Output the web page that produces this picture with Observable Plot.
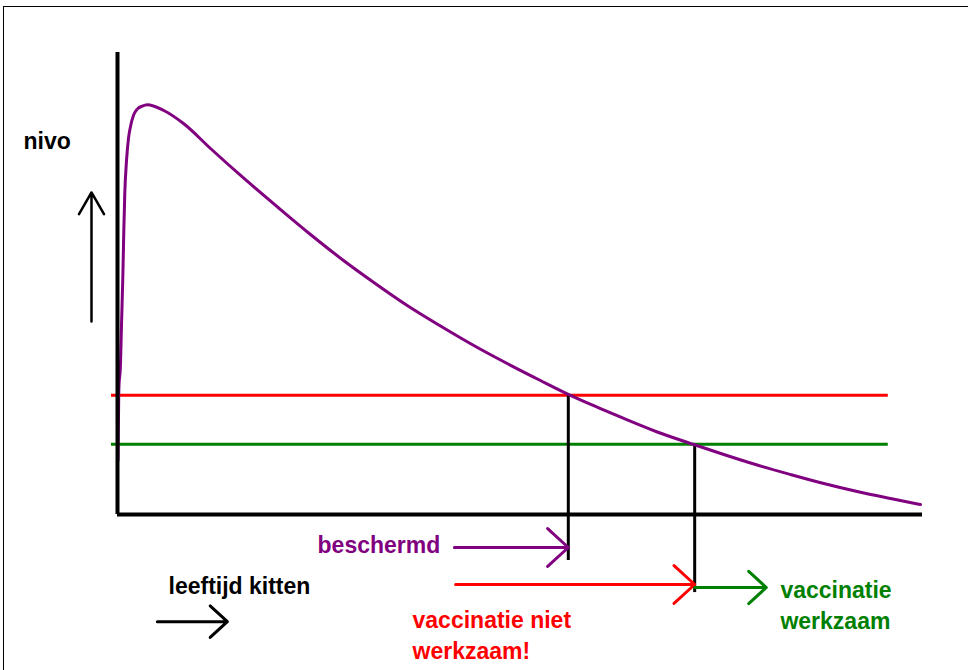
<!DOCTYPE html>
<html>
<head>
<meta charset="utf-8">
<script src="https://cdn.jsdelivr.net/npm/d3@7"></script>
<script src="https://cdn.jsdelivr.net/npm/@observablehq/plot@0.6"></script>
<style>
  html, body { margin: 0; padding: 0; background: #fff; }
  #wrap { position: relative; width: 968px; height: 670px; overflow: hidden; }
  #frame { position: absolute; left: 3px; top: 6px; width: 2000px; height: 2000px;
           border-left: 1.5px solid #000; border-top: 1.5px solid #000; box-sizing: border-box; }
  #chart { position: absolute; left: 0; top: 0; }
</style>
</head>
<body>
<div id="wrap"><div id="frame"></div><div id="chart"></div></div>
<script>
// Antibody level (maternal antibodies) versus kitten age (weeks), schematic
const ageWeeks = [0.012, 0.032, 0.075, 0.099, 0.132, 0.157, 0.181, 0.224, 0.273, 0.323, 0.398, 0.497, 0.614, 0.738,
  1.150, 1.648, 2.311, 3.130, 3.975, 4.795, 5.615, 6.368, 7.198, 8.025, 8.852, 9.682, 10.509,
  11.212, 12.0, 12.579, 13.409, 14.318, 15.063, 15.893, 16.720, 17.548, 18.378, 19.205, 19.950];
const antibodyLevel = [11.7, 26.8, 32.7, 40.9, 51.3, 61.5, 69.5, 76.6, 81.4, 84.0, 86.4, 87.8, 88.4, 88.7,
  87.45, 84.57, 79.22, 72.84, 66.56, 60.61, 54.98, 50.22, 45.24, 40.8, 36.58, 32.68, 29.0,
  25.97, 22.94, 20.78, 17.86, 15.15, 12.99, 10.71, 8.66, 6.71, 4.98, 3.46, 2.16];

// Thresholds: red = protection level, green = vaccination-works level
const thresholdNames = ["bescherming", "vaccinatie"];
const thresholdLevels = [25.8, 15.2];
const thresholdSpan = [-0.15, 19.15];
const crossingAges = [11.2, 14.34];
const dropEnds = [-9.96, -16.9];

// Arrows below the axis (age ranges)
const arrowFrom = [8.37, 8.40, 14.34, 0.99];
const arrowTo = [11.2, 14.34, 16.12, 2.73];
const arrowLevel = [-7.14, -15.15, -15.8, -23.2];
const arrowKind = ["beschermd", "niet", "werkzaam", "leeftijd"];

// Up arrow beside the y axis
const upArrowAge = -0.646;
const upArrowFrom = 41.8;
const upArrowTo = 69.7;

// Text labels
const labelTexts = ["nivo", "beschermd", "leeftijd kitten", "vaccinatie niet\nwerkzaam!", "vaccinatie\nwerkzaam"];
const labelAges = [-2.335, 4.97, 1.267, 7.33, 16.47];
const labelLevels = [79.2, -8.44, -17.1, -31.2, -24.7];
const labelKind = ["black", "purple", "black", "red", "green"];

const colors = { purple: "#800080", red: "#ff0000", green: "#008000", black: "#000000" };
const thresholdColor = { bescherming: colors.red, vaccinatie: colors.green };
const arrowColor = { beschermd: colors.purple, niet: colors.red, werkzaam: colors.green, leeftijd: colors.black };

const curve = ageWeeks.map((a, i) => ({ age: a, level: antibodyLevel[i] }));
const thresholds = thresholdNames.map((n, i) => ({ name: n, level: thresholdLevels[i], age: crossingAges[i], end: dropEnds[i] }));
const arrows = arrowKind.map((k, i) => ({ kind: k, x1: arrowFrom[i], x2: arrowTo[i], y: arrowLevel[i] }));
const labels = labelTexts.map((t, i) => ({ text: t, age: labelAges[i], level: labelLevels[i], kind: labelKind[i] }));

const plot = Plot.plot({
  width: 968,
  height: 670,
  marginLeft: 117,
  marginRight: 46,
  marginTop: 52,
  marginBottom: 156,
  x: { domain: [0, 20], axis: null },
  y: { domain: [0, 100], axis: null },
  style: { background: "transparent", overflow: "visible", fontFamily: "'Liberation Sans', Arial, sans-serif" },
  marks: [
    // threshold lines
    Plot.ruleY(thresholds, { y: "level", x1: thresholdSpan[0], x2: thresholdSpan[1],
      stroke: d => thresholdColor[d.name], strokeWidth: 3 }),
    // drop lines from crossings
    Plot.ruleX(thresholds, { x: "age", y1: "level", y2: "end", stroke: colors.black, strokeWidth: 3 }),
    // curve
    Plot.line(curve, { x: "age", y: "level", stroke: colors.purple, strokeWidth: 3, curve: "monotone-x" }),
    // axes
    Plot.ruleX([0], { y1: 0, y2: 100, stroke: colors.black, strokeWidth: 4 }),
    Plot.ruleY([0], { x1: 0, x2: 20, stroke: colors.black, strokeWidth: 4 }),
    // horizontal arrows
    Plot.arrow(arrows, { x1: "x1", x2: "x2", y1: "y", y2: "y", stroke: d => arrowColor[d.kind],
      strokeWidth: 3, headLength: 14, headAngle: 85 }),
    // up arrow
    Plot.arrow([{ x: upArrowAge, y1: upArrowFrom, y2: upArrowTo }], { x1: "x", x2: "x", y1: "y1", y2: "y2",
      stroke: colors.black, strokeWidth: 2.5, headLength: 15, headAngle: 60 }),
    // labels
    Plot.text(labels, { x: "age", y: "level", text: "text", fill: d => colors[d.kind],
      textAnchor: "start", lineAnchor: "bottom", lineHeight: 1.32, fontSize: 23, fontWeight: "bold" })
  ]
});
document.getElementById("chart").appendChild(plot);
</script>
</body>
</html>
